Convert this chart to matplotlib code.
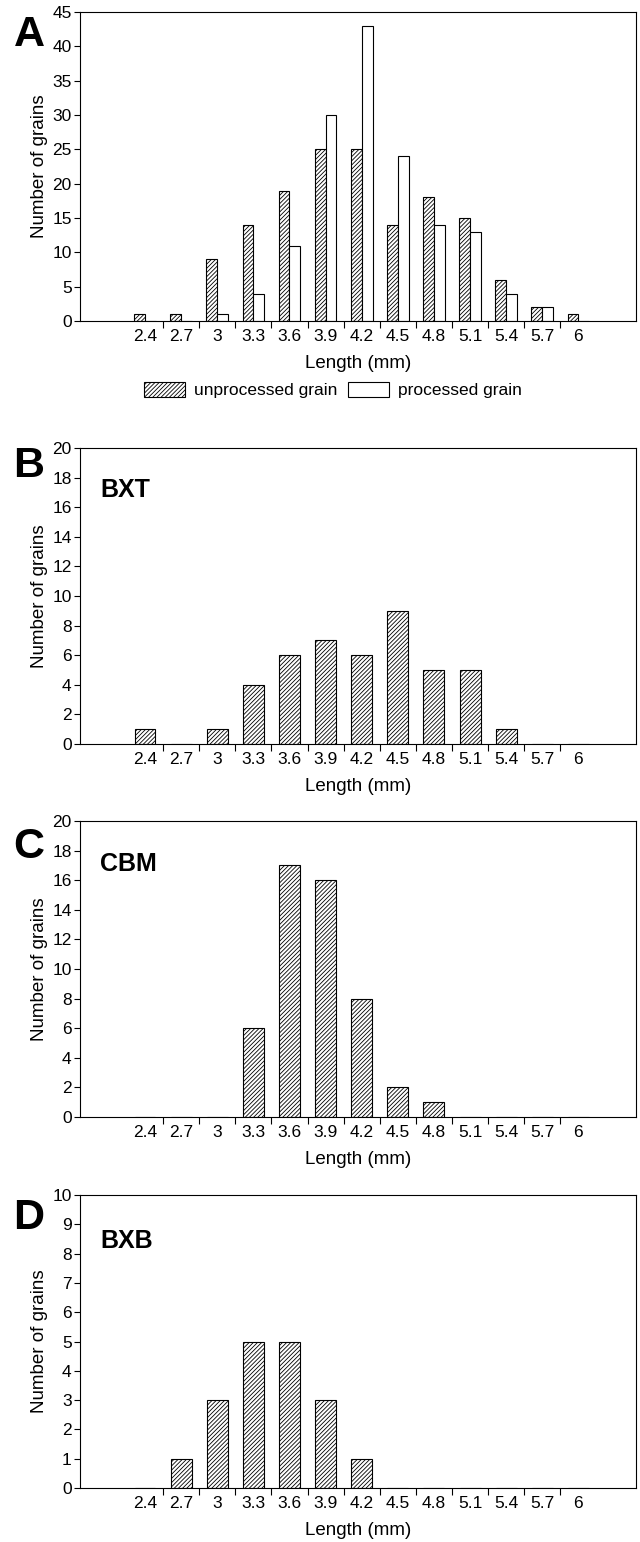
import matplotlib
matplotlib.use("Agg")
import matplotlib.pyplot as plt
from matplotlib.patches import Patch
import numpy as np

plt.rcParams['font.family'] = ['Liberation Sans', 'DejaVu Sans']
plt.rcParams['hatch.linewidth'] = 0.6

lengths = ["2.4", "2.7", "3", "3.3", "3.6", "3.9", "4.2", "4.5", "4.8", "5.1", "5.4", "5.7", "6"]

# panel A
a_unprocessed = [1, 1, 9, 14, 19, 25, 25, 14, 18, 15, 6, 2, 1]
a_processed = [0, 0, 1, 4, 11, 30, 43, 24, 14, 13, 4, 2, 0]
# panels B-D
bxt = [1, 0, 1, 4, 6, 7, 6, 9, 5, 5, 1, 0, 0]
cbm = [0, 0, 0, 6, 17, 16, 8, 2, 1, 0, 0, 0, 0]
bxb = [0, 1, 3, 5, 5, 3, 1, 0, 0, 0, 0, 0, 0]

fig = plt.figure(figsize=(6.4, 15.42), dpi=100)

left, width = 0.125, 0.869
ax_a = fig.add_axes([left, 0.7918, width, 0.2004])
ax_b = fig.add_axes([left, 0.5175, width, 0.1920])
ax_c = fig.add_axes([left, 0.2756, width, 0.1920])
ax_d = fig.add_axes([left, 0.0350, width, 0.1900])

x = np.arange(len(lengths))
hatch_kw = dict(facecolor='white', edgecolor='black', hatch='////////', linewidth=0.8)
plain_kw = dict(facecolor='white', edgecolor='black', linewidth=0.8)


def style_axis(ax, ymax, ystep):
    ax.set_xlim(-1.8, 13.6)
    ax.set_ylim(0, ymax)
    ax.set_yticks(np.arange(0, ymax + 0.01, ystep))
    ax.set_xticks(x)
    ax.set_xticklabels(lengths)
    ax.set_xticks(x[:-1] + 0.5, minor=True)
    ax.tick_params(axis='x', which='major', length=0, pad=6, labelsize=12.5)
    ax.tick_params(axis='x', which='minor', length=5, width=0.8, direction='out')
    ax.tick_params(axis='y', length=4, width=0.8, direction='out', pad=2, labelsize=12.5)
    for s in ax.spines.values():
        s.set_linewidth(0.8)
    ax.set_xlabel("Length (mm)", fontsize=13.5, labelpad=8)
    ax.set_ylabel("Number of grains", fontsize=13.5, labelpad=3)


# A: grouped bars
bw = 0.30
ax_a.bar(x - bw / 2, a_unprocessed, bw, **hatch_kw)
ax_a.bar(x + bw / 2, a_processed, bw, **plain_kw)
style_axis(ax_a, 45, 5)

# B-D: single bars
for ax, vals, ymax, ystep, name, ty in [(ax_b, bxt, 20, 2, "BXT", 0.858),
                                         (ax_c, cbm, 20, 2, "CBM", 0.855),
                                         (ax_d, bxb, 10, 1, "BXB", 0.843)]:
    ax.bar(x, vals, 0.58, **hatch_kw)
    style_axis(ax, ymax, ystep)
    ax.text(0.036, ty, name, transform=ax.transAxes, fontsize=18,
            fontweight='bold', va='center', ha='left')

handles = [Patch(**hatch_kw, label='unprocessed grain'),
           Patch(**plain_kw, label='processed grain')]
fig.legend(handles=handles, loc='center', bbox_to_anchor=(0.52, 1 - 390 / 1542),
           ncol=2, frameon=False, fontsize=12.5, handlelength=2.4, handleheight=1.0,
           handletextpad=0.5, columnspacing=0.6)

# panel letters
for letter, yc in [("A", 35), ("B", 466), ("C", 847), ("D", 1218)]:
    fig.text(29 / 640, 1 - yc / 1542, letter, fontsize=31, fontweight='bold',
             ha='center', va='center')

fig.savefig("out.png", dpi=100)
